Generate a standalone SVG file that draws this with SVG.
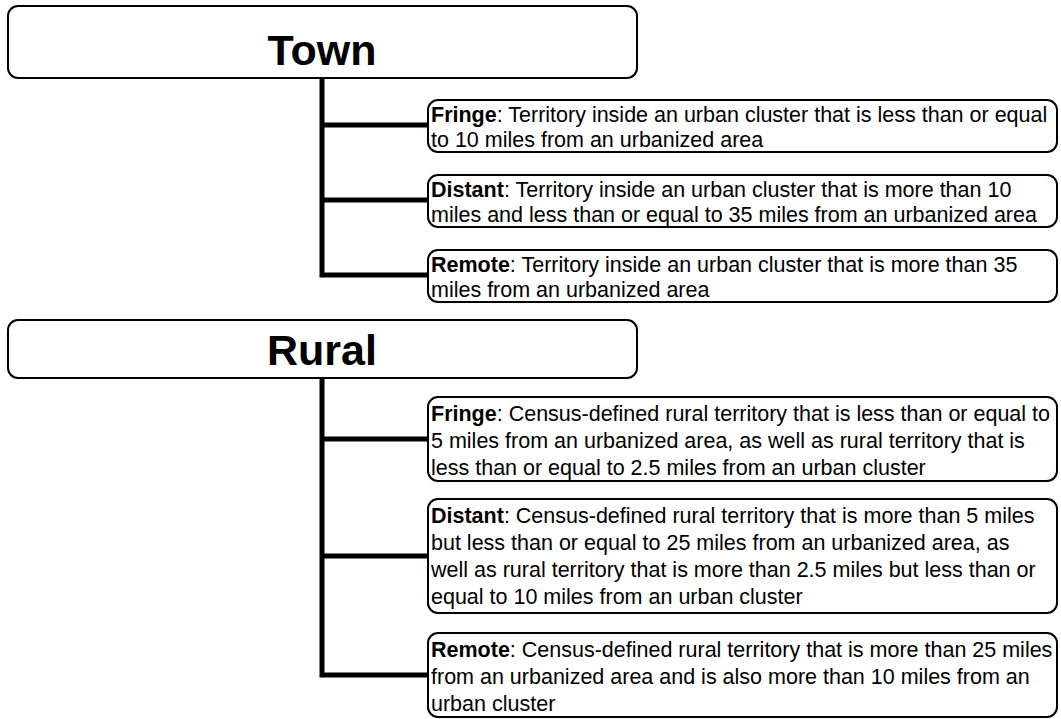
<svg xmlns="http://www.w3.org/2000/svg" width="1061" height="719" viewBox="0 0 1061 719">
<style>
.box{fill:#fff;stroke:#000;stroke-width:2}
.hdr{font-family:"Liberation Sans",Arial,sans-serif;font-weight:bold;font-size:43px;text-anchor:middle;fill:#000}
.t{font-family:"Liberation Sans",Arial,sans-serif;font-size:21.5px;fill:#000}
.b{font-weight:bold}
.c{fill:none;stroke:#000;stroke-width:5;stroke-linejoin:miter}
</style>
<rect width="1061" height="719" fill="#fff"/>
<g id="connectors">
<path class="c" d="M322,78 V275 H428 M322,125 H428 M322,200 H428"/>
<path class="c" d="M322,378 V675 H428 M322,439 H428 M322,556 H428"/>
</g>
<g id="town">
<rect class="box" x="8" y="6" width="629" height="72" rx="10"/>
<text class="hdr" x="322" y="65">Town</text>
</g>
<g id="town-fringe">
<rect class="box" x="428" y="100" width="629" height="52" rx="10"/>
<text class="t" x="431" y="122"><tspan class="b">Fringe</tspan>: Territory inside an urban cluster that is less than or equal</text>
<text class="t" x="431" y="147">to 10 miles from an urbanized area</text>
</g>
<g id="town-distant">
<rect class="box" x="428" y="175" width="629" height="52" rx="10"/>
<text class="t" x="431" y="197"><tspan class="b">Distant</tspan>: Territory inside an urban cluster that is more than 10</text>
<text class="t" x="431" y="222">miles and less than or equal to 35 miles from an urbanized area</text>
</g>
<g id="town-remote">
<rect class="box" x="428" y="250" width="629" height="52" rx="10"/>
<text class="t" x="431" y="272"><tspan class="b">Remote</tspan>: Territory inside an urban cluster that is more than 35</text>
<text class="t" x="431" y="297">miles from an urbanized area</text>
</g>
<g id="rural">
<rect class="box" x="8" y="320" width="629" height="58" rx="10"/>
<text class="hdr" x="322" y="365">Rural</text>
</g>
<g id="rural-fringe">
<rect class="box" x="428" y="397" width="629" height="84" rx="10"/>
<text class="t" x="431" y="421"><tspan class="b">Fringe</tspan>: Census-defined rural territory that is less than or equal to</text>
<text class="t" x="431" y="448">5 miles from an urbanized area, as well as rural territory that is</text>
<text class="t" x="431" y="475">less than or equal to 2.5 miles from an urban cluster</text>
</g>
<g id="rural-distant">
<rect class="box" x="428" y="499" width="629" height="114" rx="10"/>
<text class="t" x="431" y="523"><tspan class="b">Distant</tspan>: Census-defined rural territory that is more than 5 miles</text>
<text class="t" x="431" y="550">but less than or equal to 25 miles from an urbanized area, as</text>
<text class="t" x="431" y="577">well as rural territory that is more than 2.5 miles but less than or</text>
<text class="t" x="431" y="604">equal to 10 miles from an urban cluster</text>
</g>
<g id="rural-remote">
<rect class="box" x="428" y="633" width="629" height="84" rx="10"/>
<text class="t" x="431" y="657"><tspan class="b">Remote</tspan>: Census-defined rural territory that is more than 25 miles</text>
<text class="t" x="431" y="684">from an urbanized area and is also more than 10 miles from an</text>
<text class="t" x="431" y="711">urban cluster</text>
</g>
</svg>
